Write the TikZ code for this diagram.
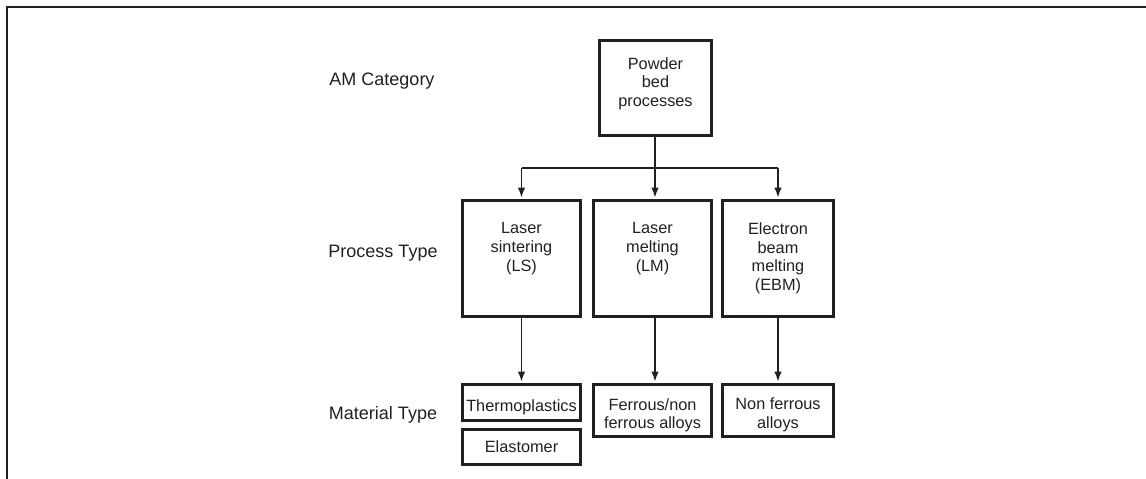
\documentclass[tikz,border=0pt]{standalone}
\usepackage{fontspec}
\setmainfont{Liberation Sans}
\usetikzlibrary{arrows.meta}
\definecolor{ink}{RGB}{35,31,32}
\begin{document}
\begin{tikzpicture}[x=1pt,y=-1pt,
  box/.style={draw=ink, line width=2.8pt, inner sep=0pt},
  txt/.style={text=ink, font=\fontsize{16.3}{18.8}\selectfont, align=center, inner sep=0pt},
  lbl/.style={text=ink, font=\fontsize{18}{21}\selectfont, inner sep=0pt, anchor=base},
  arr/.style={draw=ink, line width=1.5pt, shorten >=1.4pt, -{Latex[length=10pt,width=7.5pt]}},
  ln/.style={draw=ink, line width=1.5pt}]
\useasboundingbox (0,0) rectangle (1146,479);
\draw[ink, line width=2pt] (7,479) -- (7,7) -- (1146,7);

% row labels
\node[lbl] (lamc) at (382,85.4) {AM Category};
\node[lbl] (lpt) at (383,257.4) {Process Type};
\node[lbl] (lmt2) at (383,419.4) {Material Type};

% boxes
\node[box, minimum width=112pt, minimum height=95pt] (pb) at (655.5,88) {};
\node[box, minimum width=118.2pt, minimum height=116.2pt] (ls) at (521.5,258.5) {};
\node[box, minimum width=118.2pt, minimum height=116.2pt] (lm) at (652.5,258.5) {};
\node[box, minimum width=111.2pt, minimum height=116.2pt] (eb) at (778,258.5) {};
\node[box, minimum width=118.2pt, minimum height=36.2pt] (tp) at (521.5,402.5) {};
\node[box, minimum width=118.2pt, minimum height=35.2pt] (el) at (521.5,447) {};
\node[box, minimum width=118.2pt, minimum height=52.2pt] (fe) at (652.5,410.5) {};
\node[box, minimum width=111.2pt, minimum height=52.2pt] (nf) at (778,410.5) {};

% box texts
\node[txt, anchor=north] (pbt) at (655.5,57) {Powder\\bed\\processes};
\node[txt, anchor=north] (lst) at (521.5,222.3) {Laser\\sintering\\(LS)};
\node[txt, anchor=north] (lmt) at (652.5,222.3) {Laser\\melting\\(LM)};
\node[txt, anchor=north] (ebt) at (778,222.3) {Electron\\beam\\melting\\(EBM)};
\node[txt, anchor=base] (tpt) at (521.5,411.8) {Thermoplastics};
\node[txt, anchor=base] (elt) at (521.5,452.5) {Elastomer};
\node[txt, anchor=north] (fet) at (652.5,398) {Ferrous/non\\ferrous alloys};
\node[txt, anchor=north] (nft) at (778,397.7) {Non ferrous\\alloys};

% connectors
\coordinate (br) at (655,168);
\coordinate (pbs) at (655,135.6);
\draw[ln] (pbs) -- (br);
\draw[ln] (ls.north |- br) -- (eb.north |- br);
\draw[arr] (ls.north |- br) -- (ls.north);
\draw[arr] (br) -- (br |- lm.north);
\draw[arr] (eb.north |- br) -- (eb.north);
\draw[arr] (ls.south) -- (tp.north);
\draw[arr] (br |- lm.south) -- (br |- fe.north);
\draw[arr] (eb.south) -- (nf.north);
\end{tikzpicture}
\end{document}
